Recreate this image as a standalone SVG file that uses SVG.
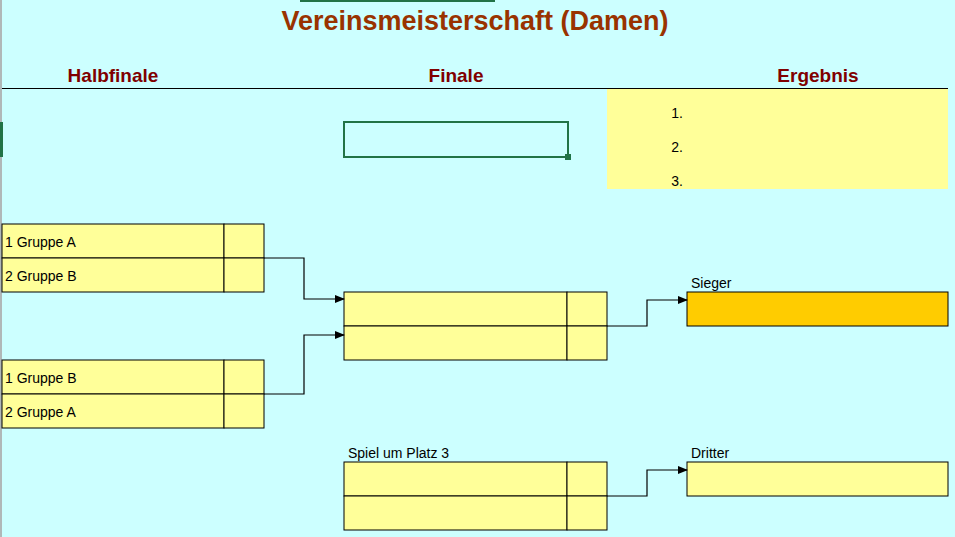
<svg xmlns="http://www.w3.org/2000/svg" width="955" height="537" viewBox="0 0 955 537">
<style>
text{font-family:"Liberation Sans",Arial,sans-serif}
.t{font-size:14px;fill:#000}
.h{font-size:19px;font-weight:bold;fill:#800000;text-anchor:middle}
.cell{fill:#FFFF99;stroke:#000;stroke-width:1}
.c{fill:none;stroke:#000;stroke-width:1.2;marker-end:url(#a)}
</style>
<defs><marker id="a" markerWidth="10" markerHeight="8" refX="9" refY="4" orient="auto" markerUnits="userSpaceOnUse"><path d="M0,0L10,4L0,8z" fill="#000"/></marker></defs>
<rect width="955" height="537" fill="#CCFFFF"/>
<rect x="0" y="0" width="2" height="537" fill="#b0b8b8"/>
<rect x="0" y="122" width="3" height="35" fill="#217346"/>
<rect x="300" y="0" width="195" height="2" fill="#217346"/>
<text x="475" y="30" font-size="27" font-weight="bold" fill="#993300" text-anchor="middle">Vereinsmeisterschaft (Damen)</text>
<text class="h" x="113" y="82">Halbfinale</text>
<text class="h" x="456" y="82">Finale</text>
<text class="h" x="818" y="82">Ergebnis</text>
<line x1="2" y1="88.5" x2="948" y2="88.5" stroke="#000"/>
<g id="ergebnis"><rect x="607" y="89" width="341" height="100" fill="#FFFF99"/>
<text class="t" x="683" y="118" text-anchor="end">1.</text>
<text class="t" x="683" y="152" text-anchor="end">2.</text>
<text class="t" x="683" y="186" text-anchor="end">3.</text></g>
<g id="auswahl"><rect x="344" y="122" width="224" height="35" fill="none" stroke="#217346" stroke-width="2"/><rect x="565" y="154" width="6" height="6" fill="#217346"/></g>
<g id="hf1"><rect class="cell" x="2" y="224" width="222" height="34"/><rect class="cell" x="224" y="224" width="40" height="34"/><rect class="cell" x="2" y="258" width="222" height="34"/><rect class="cell" x="224" y="258" width="40" height="34"/>
<text class="t" x="5" y="247">1 Gruppe A</text><text class="t" x="5" y="281">2 Gruppe B</text></g>
<g id="hf2"><rect class="cell" x="2" y="360" width="222" height="34"/><rect class="cell" x="224" y="360" width="40" height="34"/><rect class="cell" x="2" y="394" width="222" height="34"/><rect class="cell" x="224" y="394" width="40" height="34"/>
<text class="t" x="5" y="383">1 Gruppe B</text><text class="t" x="5" y="417">2 Gruppe A</text></g>
<g id="finale"><rect class="cell" x="344" y="292" width="223" height="34"/><rect class="cell" x="567" y="292" width="40" height="34"/><rect class="cell" x="344" y="326" width="223" height="34"/><rect class="cell" x="567" y="326" width="40" height="34"/></g>
<g id="platz3"><text class="t" x="348" y="458">Spiel um Platz 3</text><rect class="cell" x="344" y="462" width="223" height="34"/><rect class="cell" x="567" y="462" width="40" height="34"/><rect class="cell" x="344" y="496" width="223" height="34"/><rect class="cell" x="567" y="496" width="40" height="34"/></g>
<g id="sieger"><text class="t" x="691" y="288">Sieger</text><rect x="687" y="292" width="261" height="34" fill="#FFCC00" stroke="#000"/></g>
<g id="dritter"><text class="t" x="691" y="458">Dritter</text><rect class="cell" x="687" y="462" width="261" height="34"/></g>
<g id="connectors">
<path class="c" d="M264,258H304V299H344"/>
<path class="c" d="M264,394H304V335H344"/>
<path class="c" d="M607,326H647V300H687"/>
<path class="c" d="M607,496H647V470H687"/>
</g>
</svg>
